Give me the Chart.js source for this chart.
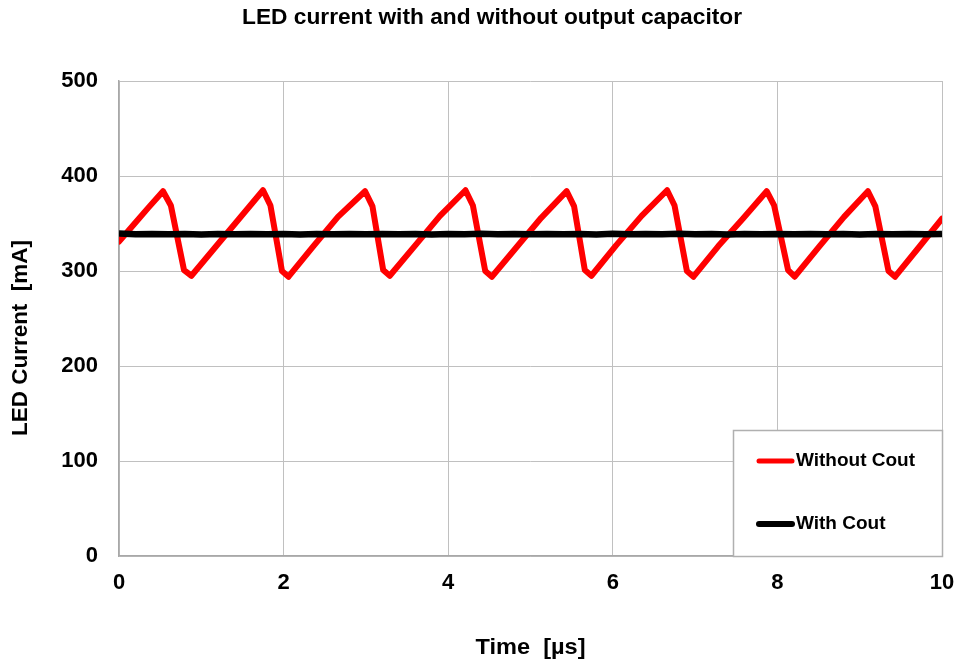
<!DOCTYPE html>
<html><head><meta charset="utf-8">
<script src="https://cdn.jsdelivr.net/npm/chart.js@4/dist/chart.umd.min.js"></script>
<style>html,body{margin:0;padding:0;background:#fff}#wrap{width:957px;height:664px}</style>
</head><body><div id="wrap"><canvas id="c" width="957" height="664"></canvas></div>
<script>
const chartTitle = 'LED current with and without output capacitor';
const xAxisTitle = 'Time  [µs]';
const yAxisTitle = 'LED Current  [mA]';
const seriesNames = ['Without Cout', 'With Cout'];
const xTicks = [0, 2, 4, 6, 8, 10];
const yTicks = [0, 100, 200, 300, 400, 500];

const timeWithout = [0, 0.18, 0.36, 0.535, 0.63, 0.79, 0.88, 1.18, 1.47, 1.75, 1.84, 1.98, 2.06, 2.36, 2.66, 2.99, 3.08, 3.21, 3.29, 3.6, 3.9, 4.21, 4.30, 4.45, 4.53, 4.83, 5.13, 5.44, 5.53, 5.66, 5.74, 6.04, 6.35, 6.66, 6.75, 6.90, 6.98, 7.28, 7.58, 7.87, 7.96, 8.13, 8.21, 8.51, 8.81, 9.10, 9.19, 9.35, 9.43, 9.72, 10.0];
const currentWithout = [331, 349, 367, 384, 369, 301, 295, 326, 356, 385, 369, 300, 294, 326, 357, 384, 368, 301, 295, 327, 358, 385, 369, 300, 294, 325, 356, 384, 368, 301, 295, 327, 358, 385, 369, 300, 294, 326, 355, 384, 369, 301, 294, 326, 357, 384, 368, 300, 294, 325, 355];

const timeWith = [0, 0.2, 0.4, 0.6, 0.8, 1.0, 1.2, 1.4, 1.6, 1.8, 2.0, 2.2, 2.4, 2.6, 2.8, 3.0, 3.2, 3.4, 3.6, 3.8, 4.0, 4.2, 4.4, 4.6, 4.8, 5.0, 5.2, 5.4, 5.6, 5.8, 6.0, 6.2, 6.4, 6.6, 6.8, 7.0, 7.2, 7.4, 7.6, 7.8, 8.0, 8.2, 8.4, 8.6, 8.8, 9.0, 9.2, 9.4, 9.6, 9.8, 10.0];
const currentWith = [339.5, 338.8, 339, 338.6, 339, 338.4, 339, 338.8, 339, 338.6, 339, 338.4, 339, 338.8, 339, 338.6, 339, 338.8, 339, 338.4, 339, 338.8, 339.2, 338.6, 339, 338.8, 339, 338.6, 339, 338.4, 339.2, 338.8, 339, 338.6, 339.2, 338.8, 339, 338.4, 339, 338.8, 339, 338.6, 339, 338.8, 339, 338.4, 339, 338.8, 339, 338.6, 339];

const seriesColors = ['#ff0000', '#000000'];
const FONT = '"Liberation Sans", Arial, sans-serif';

function toPoints(xs, ys) { return xs.map((x, i) => ({ x: x, y: ys[i] })); }

function fitText(ctx, text, x, y, size, targetW, rotate) {
  ctx.save();
  ctx.font = 'bold ' + size + 'px ' + FONT;
  const w = ctx.measureText(text).width;
  ctx.translate(x, y);
  if (rotate) ctx.rotate(-Math.PI / 2);
  ctx.scale(targetW / w, 1);
  ctx.fillStyle = '#000';
  ctx.textAlign = 'center';
  ctx.textBaseline = 'middle';
  ctx.fillText(text, 0, 0);
  ctx.restore();
}

const decor = {
  id: 'decor',
  afterDraw(chart) {
    const ctx = chart.ctx;
    const a = chart.chartArea;
    fitText(ctx, chartTitle, 492, 18, 22, 500, false);
    fitText(ctx, xAxisTitle, (a.left + a.right) / 2, 648, 22, 110, false);
    fitText(ctx, yAxisTitle, 20.5, 338, 22, 196, true);
    // legend box
    const bx = 733, by = 430, bw = a.right - 733, bh = a.bottom - 430;
    ctx.save();
    ctx.fillStyle = '#fff';
    ctx.fillRect(bx, by, bw, bh);
    ctx.strokeStyle = '#b0b0b0';
    ctx.lineWidth = 1.5;
    ctx.strokeRect(bx + 0.5, by + 0.5, bw, bh);
    const rows = [461, 524];
    const widths = [5, 6];
    rows.forEach((yy, i) => {
      ctx.strokeStyle = seriesColors[i];
      ctx.lineWidth = widths[i];
      ctx.lineCap = 'round';
      ctx.beginPath();
      ctx.moveTo(759, yy);
      ctx.lineTo(792, yy);
      ctx.stroke();
      ctx.fillStyle = '#000';
      ctx.font = 'bold 19px ' + FONT;
      ctx.textAlign = 'left';
      ctx.textBaseline = 'middle';
      ctx.fillText(seriesNames[i], 796, yy);
    });
    ctx.restore();
  }
};

new Chart(document.getElementById('c'), {
  type: 'line',
  data: {
    datasets: [
      { label: seriesNames[0], data: toPoints(timeWithout, currentWithout), borderColor: seriesColors[0], borderWidth: 6, pointRadius: 0, tension: 0, borderJoinStyle: 'round', borderCapStyle: 'round', order: 2 },
      { label: seriesNames[1], data: toPoints(timeWith, currentWith), borderColor: seriesColors[1], borderWidth: 6.5, pointRadius: 0, tension: 0, borderJoinStyle: 'miter', borderCapStyle: 'butt', order: 1 }
    ]
  },
  options: {
    responsive: false,
    animation: false,
    layout: { padding: { top: 81, right: 15, left: 0, bottom: 0 } },
    plugins: { legend: { display: false }, title: { display: false }, tooltip: { enabled: false } },
    scales: {
      x: {
        type: 'linear', min: 0, max: 10,
        afterBuildTicks: s => { s.ticks = xTicks.map(v => ({ value: v })); },
        afterFit: s => { s.height = 108; s.paddingRight = 0; s.paddingLeft = 0; },
        grid: { color: '#c0c0c0', lineWidth: 1, drawTicks: false },
        border: { color: '#a8a8a8', width: 1.5 },
        ticks: { color: '#000', font: { family: FONT, size: 22, weight: 'bold' }, padding: 14, maxRotation: 0 }
      },
      y: {
        type: 'linear', min: 0, max: 500,
        afterBuildTicks: s => { s.ticks = yTicks.map(v => ({ value: v })); },
        afterFit: s => { s.width = 119; s.paddingTop = 0; s.paddingBottom = 0; },
        grid: { color: '#c0c0c0', lineWidth: 1, drawTicks: false },
        border: { color: '#a8a8a8', width: 1.5 },
        ticks: { color: '#000', font: { family: FONT, size: 22, weight: 'bold' }, padding: 21 }
      }
    }
  },
  plugins: [decor]
});
</script></body></html>
